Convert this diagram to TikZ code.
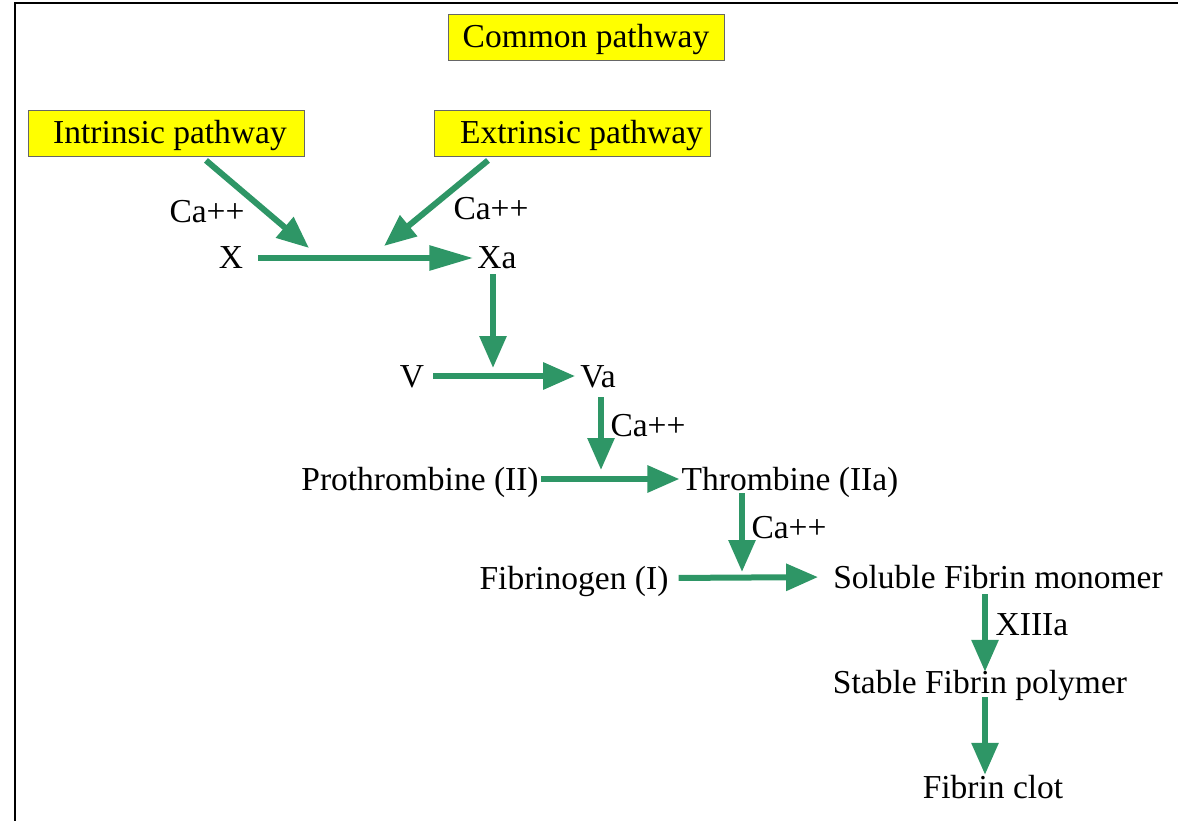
\documentclass[tikz,border=0pt]{standalone}
\usepackage{fontspec}
\setmainfont{Liberation Serif}
\usetikzlibrary{arrows.meta}
\definecolor{flowgreen}{RGB}{46,150,102}
\definecolor{boxyellow}{RGB}{255,255,0}
\tikzstyle{every node}=[font=\fontsize{33.5}{40}\selectfont, inner sep=0pt, text height=30pt, text depth=8pt]
\tikzstyle{pathbox}=[draw=black!60, fill=boxyellow, line width=0.8pt, minimum width=276pt, minimum height=46pt]
\tikzstyle{flow}=[-{Triangle[length=32pt,width=26pt]}, line width=6pt, draw=flowgreen]

\begin{document}
\begin{tikzpicture}[x=1pt, y=-1pt]
    \useasboundingbox (0,0) rectangle (1178,821);
    \draw[line width=2pt] (15,821) -- (15,3) -- (1178,3);

    % pathway boxes
    \node [pathbox] (common) at (586,37)  {Common pathway};
    \node [pathbox] (intr)   at (166,133) {\hspace*{8pt}Intrinsic pathway};
    \node [pathbox] (extr)   at (572,133) {\hspace*{19pt}Extrinsic pathway};

    % factors
    \node (X)    at (231,258) {X};
    \node (Xa)   at (497,258) {Xa};
    \node (V)    at (412,376) {V};
    \node (Va)   at (598,376) {Va};
    \node (pro)  at (420,479) {Prothrombine (II)};
    \node (thr)  at (790,479) {Thrombine (IIa)};
    \node (fib)  at (574,578) {Fibrinogen (I)};
    \node (sol)  at (998,577) {Soluble Fibrin monomer};
    \node (sta)  at (980,682) {Stable Fibrin polymer};
    \node (clot) at (993,787) {Fibrin clot};

    % cofactor labels
    \node (ca1)  at (207,212)  {Ca++};
    \node (ca2)  at (491,209)  {Ca++};
    \node (ca3)  at (648,425)  {Ca++};
    \node (ca4)  at (789,527)  {Ca++};
    \node (xiii) at (1032,624) {XIIIa};

    % where the side arrows meet the main ones
    \coordinate (h1) at (309,248);
    \coordinate (h2) at (384,246);
    \coordinate (h3) at (493,368);
    \coordinate (h4) at (601,470);
    \coordinate (h5) at (742,572);

    \draw[flow] ([xshift=40pt,yshift=-4pt]intr.south) -- (h1);
    \draw[flow] ([xshift=-84pt,yshift=-4pt]extr.south) -- (h2);
    \draw[flow, -{Triangle[length=44pt,width=24pt]}, shorten <=15pt, shorten >=4pt] (X.east) -- (Xa.west);
    \draw[flow] ([yshift=3pt]h3 |- Xa.south) -- (h3);
    \draw[flow, shorten <=9pt, shorten >=5pt] (V.east) -- (Va.west);
    \draw[flow] ([yshift=-2pt]h4 |- Va.south) -- (h4);
    \draw[flow, shorten <=2pt, shorten >=2pt] (pro.east) -- (thr.west);
    \draw[flow] ([yshift=5pt]h5 |- thr.south) -- (h5);
    \draw[flow, shorten <=10pt, shorten >=15pt] (fib.east) -- (sol.west);
    \draw[flow] ([xshift=-13pt,yshift=2pt]sol.south) -- ([xshift=5pt,yshift=-9pt]sta.north);
    \draw[flow] ([xshift=5pt,yshift=4pt]sta.south) -- ([xshift=-8pt,yshift=-7pt]clot.north);
\end{tikzpicture}
\end{document}
